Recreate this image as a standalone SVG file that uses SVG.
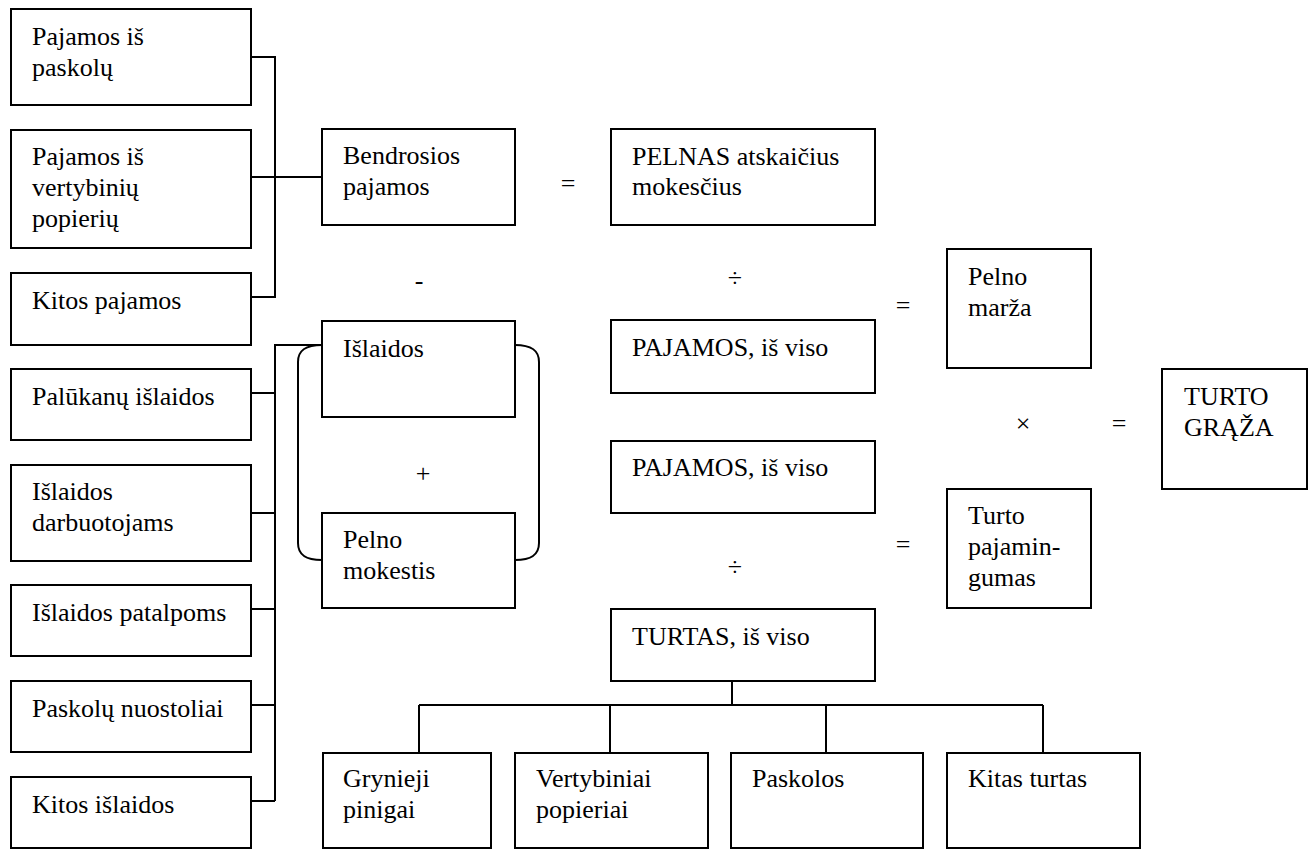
<svg xmlns="http://www.w3.org/2000/svg" width="1313" height="849" viewBox="0 0 1313 849">
  <style>
    .box { fill: #fff; stroke: #000; stroke-width: 2; }
    .wire { fill: none; stroke: #000; stroke-width: 2; }
    text { font-family: "Liberation Serif", "Times New Roman", serif; font-size: 26px; fill: #000; }
    .op { text-anchor: middle; }
  </style>
  <rect width="1313" height="849" fill="#fff"/>

  <!-- connectors -->
  <g id="connectors">
    <!-- income items into gross income -->
    <path class="wire" d="M251 57 H275 V297 H251 M251 177 H322"/>
    <!-- expense items into the expense bracket -->
    <path class="wire" d="M251 393 H275 M251 513 H275 M251 609 H275 M251 705 H275 M251 801 H275 M275 801 V345 H322"/>
    <!-- bracket joining expenses and profit tax -->
    <path class="wire" d="M322 345 C306 345 298 350 298 362 V543 C298 555 306 560 322 560"/>
    <path class="wire" d="M515 345 C531 345 539 350 539 362 V543 C539 555 531 560 515 560"/>
    <!-- total assets tree -->
    <path class="wire" d="M732 681 V705 M419 705 H1043 M419 705 V753 M610 705 V753 M826 705 V753 M1043 705 V753"/>
  </g>

  <!-- income -->
  <g id="inc-loans">
    <rect class="box" x="11" y="9" width="240" height="96"/>
    <text x="32" y="45">Pajamos iš</text>
    <text x="32" y="76">paskolų</text>
  </g>
  <g id="inc-securities">
    <rect class="box" x="11" y="130" width="240" height="118"/>
    <text x="32" y="165">Pajamos iš</text>
    <text x="32" y="196">vertybinių</text>
    <text x="32" y="227">popierių</text>
  </g>
  <g id="inc-other">
    <rect class="box" x="11" y="273" width="240" height="72"/>
    <text x="32" y="309">Kitos pajamos</text>
  </g>

  <!-- expenses -->
  <g id="exp-interest">
    <rect class="box" x="11" y="369" width="240" height="71"/>
    <text x="32" y="405">Palūkanų išlaidos</text>
  </g>
  <g id="exp-staff">
    <rect class="box" x="11" y="465" width="240" height="96"/>
    <text x="32" y="500">Išlaidos</text>
    <text x="32" y="531">darbuotojams</text>
  </g>
  <g id="exp-premises">
    <rect class="box" x="11" y="585" width="240" height="71"/>
    <text x="32" y="621">Išlaidos patalpoms</text>
  </g>
  <g id="exp-loanloss">
    <rect class="box" x="11" y="681" width="240" height="71"/>
    <text x="32" y="717">Paskolų nuostoliai</text>
  </g>
  <g id="exp-other">
    <rect class="box" x="11" y="777" width="240" height="71"/>
    <text x="32" y="813">Kitos išlaidos</text>
  </g>

  <!-- middle column -->
  <g id="gross-income">
    <rect class="box" x="322" y="129" width="193" height="96"/>
    <text x="343" y="164">Bendrosios</text>
    <text x="343" y="195">pajamos</text>
  </g>
  <g id="expenses">
    <rect class="box" x="322" y="321" width="193" height="96"/>
    <text x="343" y="357">Išlaidos</text>
  </g>
  <g id="profit-tax">
    <rect class="box" x="322" y="513" width="193" height="95"/>
    <text x="343" y="548">Pelno</text>
    <text x="343" y="579">mokestis</text>
  </g>

  <!-- ratio column -->
  <g id="net-profit">
    <rect class="box" x="611" y="129" width="264" height="96"/>
    <text x="632" y="165">PELNAS atskaičius</text>
    <text x="632" y="195">mokesčius</text>
  </g>
  <g id="revenue-1">
    <rect class="box" x="611" y="320" width="264" height="73"/>
    <text x="632" y="356">PAJAMOS, iš viso</text>
  </g>
  <g id="revenue-2">
    <rect class="box" x="611" y="441" width="264" height="72"/>
    <text x="632" y="476">PAJAMOS, iš viso</text>
  </g>
  <g id="total-assets">
    <rect class="box" x="611" y="609" width="264" height="72"/>
    <text x="632" y="645">TURTAS, iš viso</text>
  </g>

  <g id="profit-margin">
    <rect class="box" x="947" y="249" width="144" height="119"/>
    <text x="968" y="285">Pelno</text>
    <text x="968" y="316">marža</text>
  </g>
  <g id="asset-utilization">
    <rect class="box" x="947" y="489" width="144" height="119"/>
    <text x="968" y="524">Turto</text>
    <text x="968" y="555">pajamin-</text>
    <text x="968" y="586">gumas</text>
  </g>
  <g id="roa">
    <rect class="box" x="1162" y="369" width="145" height="120"/>
    <text x="1184" y="405">TURTO</text>
    <text x="1184" y="436">GRĄŽA</text>
  </g>

  <!-- asset components -->
  <g id="cash">
    <rect class="box" x="323" y="753" width="168" height="95"/>
    <text x="343" y="787">Grynieji</text>
    <text x="343" y="818">pinigai</text>
  </g>
  <g id="securities">
    <rect class="box" x="515" y="753" width="193" height="95"/>
    <text x="536" y="787">Vertybiniai</text>
    <text x="536" y="818">popieriai</text>
  </g>
  <g id="loans">
    <rect class="box" x="731" y="753" width="192" height="95"/>
    <text x="752" y="787">Paskolos</text>
  </g>
  <g id="other-assets">
    <rect class="box" x="947" y="753" width="193" height="95"/>
    <text x="968" y="787">Kitas turtas</text>
  </g>

  <!-- operators -->
  <g id="operators">
    <text class="op" x="568" y="192">=</text>
    <text class="op" x="419" y="289">-</text>
    <text class="op" x="423" y="482">+</text>
    <text class="op" x="735" y="287">÷</text>
    <text class="op" x="735" y="576">÷</text>
    <text class="op" x="903" y="314">=</text>
    <text class="op" x="903" y="553">=</text>
    <text class="op" x="1023" y="432">×</text>
    <text class="op" x="1119" y="432">=</text>
  </g>
</svg>
